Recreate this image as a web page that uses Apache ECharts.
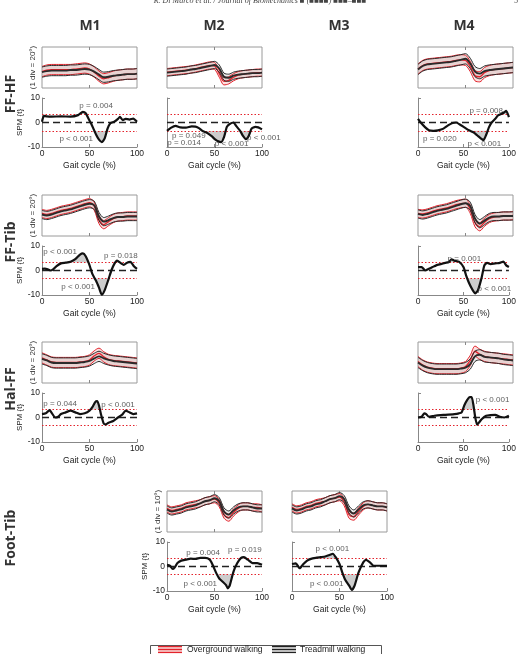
<!DOCTYPE html>
<html>
<head>
<meta charset="utf-8">
<script src="https://cdn.jsdelivr.net/npm/echarts@6/dist/echarts.min.js"></script>
<style>
html, body { margin: 0; background: #fff; }
#chart { width: 519px; height: 654px; }
</style>
</head>
<body>
<div id="chart"></div>
<script>
// gait cycle samples (%) for the kinematic curves
const gait = [0, 5, 10, 15, 20, 25, 30, 35, 40, 45, 50, 55, 60, 65, 70, 75, 80, 85, 90, 95, 100]

const columns = ['M1', 'M2', 'M3', 'M4']
const rows = ['FF-HF', 'FF-Tib', 'Hal-FF', 'Foot-Tib']

// kinematic means (deg), overground = red, treadmill = black
const ffhfM1Over = [-8, -5, -4, -4, -4, -4, -4, -3, -2, -1, -3, -9, -17, -22, -20, -17, -15, -14, -13, -13, -12]
const ffhfM1Tread = [-9, -7, -6, -6, -6, -6, -5, -5, -4, -3, -4, -8, -14, -19, -18, -16, -15, -14, -13, -13, -12]
const ffhfM2Over = [-9, -8, -7, -6, -5, -4, -2, 0, 2, 4, 3, -12, -27, -25, -19, -15, -13, -12, -11, -10, -10]
const ffhfM2Tread = [-10, -9, -8, -7, -6, -4, -3, -1, 1, 3, 5, -2, -18, -20, -16, -14, -13, -12, -11, -11, -10]
const ffhfM4Over = [-3, 4, 7, 8, 9, 10, 11, 12, 14, 15, 14, 2, -16, -18, -10, -6, -4, -3, -2, -1, 0]
const ffhfM4Tread = [-4, 3, 6, 7, 8, 9, 10, 11, 13, 15, 17, 8, -8, -12, -7, -5, -4, -3, -2, -1, 0]
const fftibM1Over = [4, 2, 4, 7, 10, 12, 14, 17, 20, 23, 25, 18, -8, -18, -12, -6, -3, -2, -1, -1, -1]
const fftibM1Tread = [2, 0, 2, 5, 8, 10, 12, 15, 18, 21, 23, 20, -2, -12, -9, -5, -3, -3, -2, -2, -2]
const fftibM4Over = [4, 3, 5, 8, 11, 13, 15, 18, 21, 23, 24, 12, -14, -22, -13, -6, -3, -2, -1, -1, 0]
const fftibM4Tread = [3, 1, 3, 6, 9, 11, 13, 16, 19, 22, 24, 18, -6, -16, -10, -4, -2, -2, -1, -1, -1]
const halffM1Over = [9, 5, 1, 0, 0, 0, 0, 0, 1, 2, 5, 13, 18, 11, 6, 4, 3, 2, 1, 0, -1]
const halffM1Tread = [7, 4, 0, -1, -1, -1, -1, -1, 0, 1, 3, 8, 12, 8, 5, 3, 2, 1, 0, -1, -2]
const halffM4Over = [2, -5, -9, -11, -12, -12, -12, -12, -12, -11, -8, 4, 22, 16, 12, 10, 9, 8, 7, 6, 5]
const halffM4Tread = [0, -6, -10, -12, -13, -13, -13, -13, -13, -12, -10, -3, 12, 15, 11, 10, 9, 8, 6, 5, 4]
const foottibM2Over = [3, 1, 2, 3, 5, 6, 7, 8, 10, 11, 12, 8, -3, -6, -1, 3, 5, 5, 4, 4, 3]
const foottibM2Tread = [2, 0, 1, 2, 4, 5, 6, 8, 10, 11, 13, 10, 0, -3, 1, 4, 5, 5, 4, 3, 3]
const foottibM3Over = [4, 2, 3, 5, 6, 8, 9, 10, 12, 13, 14, 9, -3, -5, 0, 5, 7, 6, 5, 5, 4]
const foottibM3Tread = [3, 1, 2, 4, 5, 7, 8, 10, 12, 13, 15, 12, 2, -2, 2, 6, 7, 6, 5, 5, 4]

// SPM{t} curves, [gait %, t]
const spmFfhfM1 = [[0, 0.3], [2, 2.7], [5, 2.5], [10, 2.4], [20, 2.5], [30, 2.4], [38, 3], [43, 4.3], [46, 3.8], [49, 1.5], [53, -1.5], [57, -5], [60, -7], [63, -8], [66, -6.5], [69, -2.5], [72, -0.3], [76, 0.3], [80, 1.5], [82, 2.3], [85, 1], [88, 1.5], [92, 1.2], [96, 1.6], [100, 0.3]]
const spmFfhfM2 = [[0, -3.4], [4, -2.2], [9, -1.4], [14, -2], [20, -2.1], [26, -1.6], [30, -1.7], [34, -2.4], [38, -3.6], [42, -4.2], [47, -5.6], [51, -7], [54, -7.7], [57, -8], [60, -6], [63, -1.8], [66, -0.6], [70, 0], [73, -1.5], [77, -3.4], [80, -5.5], [83, -6.8], [86, -5.5], [89, -2.5], [93, -1.8], [96, -2], [100, -2.8]]
const spmFfhfM4 = [[0, 1.5], [3, 0], [8, -2], [12, -3.2], [17, -3.4], [22, -3.2], [28, -2.5], [33, -1.2], [38, -0.2], [42, 0], [46, -0.8], [51, -2], [56, -3.2], [61, -4], [65, -5.2], [69, -6.5], [72, -7.2], [75, -5], [78, -2], [81, 0], [85, 1.5], [88, 2.9], [92, 3.6], [95, 4.2], [97, 4.8], [100, 2.2]]
const spmFftibM1 = [[0, 0.7], [3, 0.8], [6, 0.5], [9, 0], [12, 0.6], [15, 1.7], [20, 2.9], [25, 3.2], [30, 3.6], [35, 4.6], [40, 6.5], [43, 7], [46, 5.8], [50, 2.2], [53, -1.4], [57, -4.3], [60, -7], [63, -9.9], [66, -8], [70, -3.6], [73, 0], [76, 2.6], [79, 4], [83, 3], [86, 2.3], [90, 3.3], [93, 3.5], [97, 1.6], [100, 0.7]]
const spmFftibM4 = [[0, 1.4], [4, 1.4], [8, 0], [12, 0.7], [16, 1.4], [20, 2.1], [25, 2.6], [30, 3.1], [34, 3.5], [37, 4.6], [40, 4], [45, 3.6], [50, 1.4], [53, -2.1], [56, -5], [60, -7.9], [63, -9.3], [66, -8], [70, -2.9], [73, 2.1], [76, 3.1], [80, 2.6], [85, 2.9], [90, 3.1], [94, 3.6], [97, 2.1], [100, 1.4]]
const spmHalffM1 = [[0, 1.4], [4, 1.7], [8, 3], [10, 2], [14, 0], [17, 0.3], [20, 1.4], [25, 2.1], [30, 2.8], [35, 2.1], [40, 1.4], [45, 1.7], [50, 2.8], [53, 4.2], [56, 6.3], [58, 6.7], [60, 4.9], [62, 1.4], [65, -2.5], [67, -2.8], [70, -2.1], [75, -1.4], [80, 0], [85, 1.4], [88, 2.8], [92, 2.1], [96, 1.4], [100, 1.7]]
const spmHalffM4 = [[0, 0], [4, 0.3], [7, 1.7], [9, 1.4], [12, 0.3], [18, 0.7], [25, 1], [30, 1.1], [40, 1.4], [45, 1.7], [48, 2.1], [51, 5], [54, 7.1], [57, 8.3], [59, 8.3], [61, 5], [63, 0], [65, -2.9], [67, -2.1], [70, -0.7], [75, 0.7], [80, 1], [85, 1.1], [90, 0.3], [95, 0], [100, 0.7]]
const spmFoottibM2 = [[0, 0.7], [3, 0.4], [6, -1], [8, -0.4], [11, 1.4], [15, 2.4], [20, 2.8], [25, 3.2], [30, 3.1], [35, 3.5], [40, 3.5], [45, 2.8], [48, 0.7], [52, -2.8], [55, -4.9], [58, -6], [62, -7.5], [64, -8.9], [66, -7.8], [70, -2.1], [74, 1.4], [78, 3.5], [81, 3.8], [85, 2.8], [90, 1.4], [95, 1.4], [100, 0.7]]
const spmFoottibM3 = [[0, 1], [4, 1.3], [8, -0.7], [12, 1], [16, 2.4], [20, 3.1], [25, 3.5], [30, 3.8], [35, 4.1], [40, 4.8], [43, 5.2], [46, 3.8], [50, 1], [53, -2.5], [56, -5.4], [60, -7.7], [63, -9.6], [66, -7.7], [70, -2.5], [75, 1.7], [78, 2.7], [82, 1.7], [86, 0.3], [90, 0.3], [95, 0.3], [100, 0.3]]

// p-value annotations, [gait %, t, text]
const pFfhfM1 = [[57, 6.8, 'p = 0.004'], [36, -6.8, 'p < 0.001']]
const pFfhfM2 = [[23, -5.4, 'p = 0.049'], [18, -8.2, 'p = 0.014'], [68, -8.6, 'p < 0.001'], [102, -6.1, 'p < 0.001']]
const pFfhfM4 = [[75, 4.9, 'p = 0.008'], [24, -6.6, 'p = 0.020'], [73, -8.6, 'p < 0.001']]
const pFftibM1 = [[19, 7.8, 'p < 0.001'], [83, 5.8, 'p = 0.018'], [38, -6.5, 'p < 0.001']]
const pFftibM4 = [[51, 4.9, 'p = 0.001'], [84, -7.6, 'p < 0.001']]
const pHalffM1 = [[19, 5.6, 'p = 0.044'], [80, 5.2, 'p < 0.001']]
const pHalffM4 = [[82, 7.4, 'p < 0.001']]
const pFoottibM2 = [[38, 5.6, 'p = 0.004'], [82, 7, 'p = 0.019'], [35, -7, 'p < 0.001']]
const pFoottibM3 = [[42.5, 7.2, 'p < 0.001'], [36.5, -7.2, 'p < 0.001']]

const panels = [
  { row: 0, col: 0, div: 20, sd: 10, over: ffhfM1Over, tread: ffhfM1Tread, spm: spmFfhfM1, thr: 3.5, p: pFfhfM1, first: true },
  { row: 0, col: 1, div: 20, sd: 7, over: ffhfM2Over, tread: ffhfM2Tread, spm: spmFfhfM2, thr: 3.5, p: pFfhfM2 },
  { row: 0, col: 3, div: 20, sd: 10, over: ffhfM4Over, tread: ffhfM4Tread, spm: spmFfhfM4, thr: 3.4, p: pFfhfM4 },
  { row: 1, col: 0, div: 20, sd: 8, over: fftibM1Over, tread: fftibM1Tread, spm: spmFftibM1, thr: 3.3, p: pFftibM1, first: true },
  { row: 1, col: 3, div: 20, sd: 8, over: fftibM4Over, tread: fftibM4Tread, spm: spmFftibM4, thr: 3.3, p: pFftibM4 },
  { row: 2, col: 0, div: 20, sd: 10, over: halffM1Over, tread: halffM1Tread, spm: spmHalffM1, thr: 3.3, p: pHalffM1, first: true },
  { row: 2, col: 3, div: 20, sd: 10, over: halffM4Over, tread: halffM4Tread, spm: spmHalffM4, thr: 3.3, p: pHalffM4 },
  { row: 3, col: 1, div: 10, sd: 3.5, over: foottibM2Over, tread: foottibM2Tread, spm: spmFoottibM2, thr: 3.2, p: pFoottibM2, first: true },
  { row: 3, col: 2, div: 10, sd: 3.5, over: foottibM3Over, tread: foottibM3Tread, spm: spmFoottibM3, thr: 3.2, p: pFoottibM3 },
]

const FONT = '"Liberation Sans", Arial, sans-serif'
const colLeft = [42, 167, 292, 418]
const colMid = [90, 214, 339, 464]
const rowTop = [47, 195, 342, 491]
const PW = 95

const RED = '#e3232c'
const RED_FILL = 'rgba(236,120,118,0.32)'
const DARK = '#2b2b2b'
const GREY_FILL = 'rgba(160,160,160,0.3)'

const grids = []
const xAxes = []
const yAxes = []
const series = []

function band(xi, yi, mean, sd, line, fill, key, meanWidth) {
  const common = { type: 'line', xAxisIndex: xi, yAxisIndex: yi, symbol: 'none', smooth: 0.3, silent: true }
  return [
    { ...common, stack: key, stackStrategy: 'all', data: mean.map((m) => m - sd), lineStyle: { color: line, width: 1 } },
    { ...common, stack: key, stackStrategy: 'all', data: mean.map(() => 2 * sd), lineStyle: { color: line, width: 1 }, areaStyle: { color: fill } },
    { ...common, data: mean, lineStyle: { color: line, width: meanWidth } },
  ]
}

panels.forEach((p, i) => {
  const left = colLeft[p.col]
  const top = rowTop[p.row]

  // kinematic panel
  const kg = grids.length
  grids.push({ left, top, width: PW, height: 41, show: true, borderColor: '#9a9a9a', borderWidth: 1 })
  const kxi = xAxes.length
  const kinX = {
    gridIndex: kg, type: 'category', data: gait.map(String), boundaryGap: false,
    axisLine: { show: false, onZero: false },
    axisTick: { inside: true, length: 3, interval: (idx, val) => val === '50', lineStyle: { color: '#888' } },
    axisLabel: { show: false }, splitLine: { show: false },
  }
  xAxes.push(kinX, { ...kinX, position: 'top' })
  const kyi = yAxes.length
  yAxes.push({
    gridIndex: kg, type: 'value', min: -2 * p.div, max: 2 * p.div, interval: p.div,
    axisLine: { show: false, onZero: false },
    axisTick: { inside: true, length: 2, lineStyle: { color: '#888' } },
    axisLabel: { show: false }, splitLine: { show: false },
    name: p.first ? '(1 div = ' + p.div + '°)' : '',
    nameLocation: 'middle', nameGap: 5,
    nameTextStyle: { fontSize: 8, color: '#333', fontFamily: FONT },
  })
  series.push(...band(kxi, kyi, p.over, p.sd, RED, RED_FILL, 'o' + i, 1.3))
  series.push(...band(kxi, kyi, p.tread, p.sd, DARK, GREY_FILL, 't' + i, 1.9))

  // SPM panel
  const sg = grids.length
  grids.push({ left, top: top + 51, width: PW, height: 49 })
  const sxi = xAxes.length
  xAxes.push({
    gridIndex: sg, type: 'value', min: 0, max: 100, interval: 50,
    axisLine: { onZero: false, lineStyle: { color: '#888', width: 1 } },
    axisTick: { inside: true, length: 3, lineStyle: { color: '#888' } },
    axisLabel: { fontSize: 8.5, color: '#222', fontFamily: FONT, margin: 2 },
    splitLine: { show: false },
    name: 'Gait cycle (%)', nameLocation: 'middle', nameGap: 14,
    nameTextStyle: { fontSize: 8.5, color: '#222', fontFamily: FONT },
  })
  const syi = yAxes.length
  yAxes.push({
    gridIndex: sg, type: 'value', min: -10, max: 10, interval: 10,
    axisLine: { onZero: false, lineStyle: { color: '#888', width: 1 } },
    axisTick: { inside: true, length: 3, lineStyle: { color: '#888' } },
    axisLabel: { show: !!p.first, fontSize: 8.5, color: '#222', fontFamily: FONT, margin: 2 },
    splitLine: { show: false },
    name: p.first ? 'SPM {t}' : '', nameLocation: 'middle', nameGap: 12,
    nameTextStyle: { fontSize: 8, color: '#222', fontFamily: FONT },
  })

  const sc = { type: 'line', xAxisIndex: sxi, yAxisIndex: syi, symbol: 'none', silent: true }
  // supra-threshold clusters, with the critical threshold lines
  series.push({
    ...sc, z: 1, data: p.spm.map((d) => [d[0], Math.max(d[1], p.thr)]),
    lineStyle: { width: 0 }, areaStyle: { color: '#cdcdcd', opacity: 1, origin: p.thr },
    markLine: {
      silent: true, symbol: 'none', label: { show: false }, animation: false,
      lineStyle: { type: [1.5, 2], color: RED, width: 1 },
      data: [{ yAxis: p.thr }, { yAxis: -p.thr }],
    },
  })
  series.push({ ...sc, z: 1, data: p.spm.map((d) => [d[0], Math.min(d[1], -p.thr)]), lineStyle: { width: 0 }, areaStyle: { color: '#cdcdcd', opacity: 1, origin: -p.thr } })
  series.push({
    ...sc, z: 5, smooth: 0.2, data: p.spm,
    lineStyle: { color: '#111', width: 2.2 },
    markLine: {
      silent: true, symbol: 'none', label: { show: false }, animation: false,
      lineStyle: { type: [7, 4], color: '#222', width: 1.4 },
      data: [{ yAxis: 0 }],
    },
  })
  series.push({
    type: 'scatter', xAxisIndex: sxi, yAxisIndex: syi, z: 6, silent: true, clip: false,
    symbolSize: 0, data: p.p,
    label: { show: true, position: 'inside', formatter: (q) => q.data[2], fontSize: 8, color: '#333', fontFamily: FONT },
  })
})

const graphic = []
columns.forEach((c, k) => {
  graphic.push({ type: 'text', x: colMid[k], y: 26, style: { text: c, font: 'bold 14px "Open Sans", sans-serif', fill: '#333', align: 'center', verticalAlign: 'middle', textAlign: 'center', textVerticalAlign: 'middle' } })
})
rows.forEach((r, k) => {
  graphic.push({ type: 'text', x: 11, y: rowTop[k] + 47, rotation: Math.PI / 2, style: { text: r, font: 'bold 14px "Open Sans", sans-serif', fill: '#333', align: 'center', verticalAlign: 'middle', textAlign: 'center', textVerticalAlign: 'middle' } })
})
graphic.push({ type: 'text', x: 260, y: 1, style: { text: 'R. Di Marco et al. / Journal of Biomechanics ■ (■■■■) ■■■–■■■', font: 'italic 8px "Liberation Serif", serif', fill: '#444', align: 'center', verticalAlign: 'middle', textAlign: 'center', textVerticalAlign: 'middle' } })
graphic.push({ type: 'text', x: 516, y: 1, style: { text: '5', font: '8px "Liberation Serif", serif', fill: '#444', align: 'center', verticalAlign: 'middle', textAlign: 'center', textVerticalAlign: 'middle' } })

// legend box
graphic.push({ type: 'rect', shape: { x: 150.5, y: 645.5, width: 231, height: 14 }, style: { fill: '#fff', stroke: '#555', lineWidth: 1 } })
function swatch(x, line, fill) {
  graphic.push({ type: 'rect', shape: { x, y: 646.5, width: 24, height: 6 }, style: { fill } })
  ;[646.5, 649.5, 652.5].forEach((y) => {
    graphic.push({ type: 'line', shape: { x1: x, y1: y, x2: x + 24, y2: y }, style: { stroke: line, lineWidth: 1.2 } })
  })
}
swatch(158, RED, 'rgba(236,120,118,0.45)')
swatch(272, '#222', 'rgba(160,160,160,0.5)')
graphic.push({ type: 'text', x: 187, y: 649.5, style: { text: 'Overground walking', font: '8.5px ' + FONT, fill: '#222', verticalAlign: 'middle', textVerticalAlign: 'middle' } })
graphic.push({ type: 'text', x: 300, y: 649.5, style: { text: 'Treadmill walking', font: '8.5px ' + FONT, fill: '#222', verticalAlign: 'middle', textVerticalAlign: 'middle' } })

const chart = echarts.init(document.getElementById('chart'))
chart.setOption({
  animation: false,
  backgroundColor: '#fff',
  grid: grids,
  xAxis: xAxes,
  yAxis: yAxes,
  series,
  graphic,
})
</script>
</body>
</html>
